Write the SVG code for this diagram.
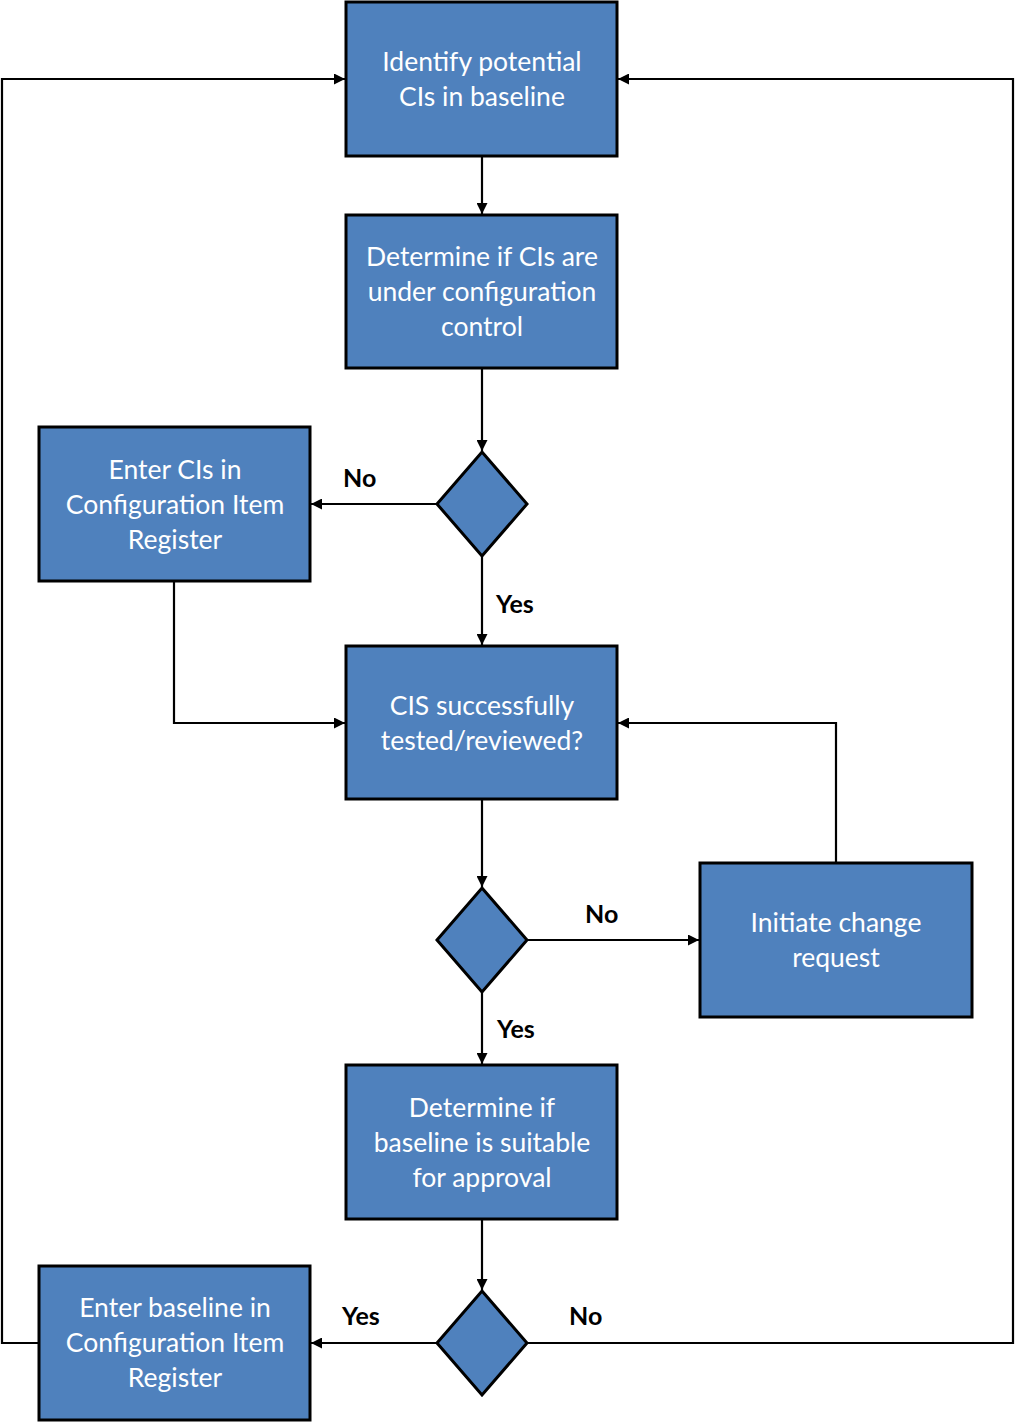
<svg xmlns="http://www.w3.org/2000/svg" width="1015" height="1422" viewBox="0 0 1015 1422">
<style>
.box{fill:#4F81BD;stroke:#000;stroke-width:3}
.t{fill:#fff;font-family:Lato,"Open Sans",sans-serif;font-size:26.5px;text-anchor:middle}
.c{fill:none;stroke:#000;stroke-width:2.2}
.l{fill:#000;font-family:Lato,"Open Sans",sans-serif;font-size:25px;font-weight:bold}
</style>
<defs>
<marker id="a" markerWidth="11" markerHeight="11" refX="11" refY="5.5" orient="auto" markerUnits="userSpaceOnUse">
<path d="M0,0 L11,5.5 L0,11 Z" fill="#000"/>
</marker>
</defs>
<rect width="1015" height="1422" fill="#fff"/>
<g id="connectors">
<path class="c" d="M482,156 V214" marker-end="url(#a)"/>
<path class="c" d="M482,368 V451" marker-end="url(#a)"/>
<path class="c" d="M437,504 H311" marker-end="url(#a)"/>
<path class="c" d="M482,556 V645" marker-end="url(#a)"/>
<path class="c" d="M174,581 V723 H345" marker-end="url(#a)"/>
<path class="c" d="M482,799 V887" marker-end="url(#a)"/>
<path class="c" d="M527,940 H699" marker-end="url(#a)"/>
<path class="c" d="M836,863 V723 H618" marker-end="url(#a)"/>
<path class="c" d="M482,992 V1064" marker-end="url(#a)"/>
<path class="c" d="M482,1219 V1290" marker-end="url(#a)"/>
<path class="c" d="M437,1343 H311" marker-end="url(#a)"/>
<path class="c" d="M527,1343 H1013 V79 H618" marker-end="url(#a)"/>
<path class="c" d="M39,1343 H2 V79 H345" marker-end="url(#a)"/>
<text class="l" x="343" y="487">No</text>
<text class="l" x="496" y="613">Yes</text>
<text class="l" x="585" y="923">No</text>
<text class="l" x="497" y="1038">Yes</text>
<text class="l" x="342" y="1325">Yes</text>
<text class="l" x="569" y="1325">No</text>
</g>
<g id="n1"><rect class="box" x="346" y="2" width="271" height="154"/><text class="t" x="482" y="71">Identify potential</text><text class="t" x="482" y="106">CIs in baseline</text></g>
<g id="n2"><rect class="box" x="346" y="215" width="271" height="153"/><text class="t" x="482" y="266">Determine if CIs are</text><text class="t" x="482" y="301">under configuration</text><text class="t" x="482" y="336">control</text></g>
<g id="d1"><polygon class="box" points="482,452 527,504 482,556 437,504"/></g>
<g id="n3"><rect class="box" x="39" y="427" width="271" height="154"/><text class="t" x="175" y="479">Enter CIs in</text><text class="t" x="175" y="514">Configuration Item</text><text class="t" x="175" y="549">Register</text></g>
<g id="n4"><rect class="box" x="346" y="646" width="271" height="153"/><text class="t" x="482" y="715">CIS successfully</text><text class="t" x="482" y="750">tested/reviewed?</text></g>
<g id="d2"><polygon class="box" points="482,888 527,940 482,992 437,940"/></g>
<g id="n5"><rect class="box" x="700" y="863" width="272" height="154"/><text class="t" x="836" y="932">Initiate change</text><text class="t" x="836" y="967">request</text></g>
<g id="n6"><rect class="box" x="346" y="1065" width="271" height="154"/><text class="t" x="482" y="1117">Determine if</text><text class="t" x="482" y="1152">baseline is suitable</text><text class="t" x="482" y="1187">for approval</text></g>
<g id="d3"><polygon class="box" points="482,1291 527,1343 482,1395 437,1343"/></g>
<g id="n7"><rect class="box" x="39" y="1266" width="271" height="154"/><text class="t" x="175" y="1317">Enter baseline in</text><text class="t" x="175" y="1352">Configuration Item</text><text class="t" x="175" y="1387">Register</text></g>
</svg>
